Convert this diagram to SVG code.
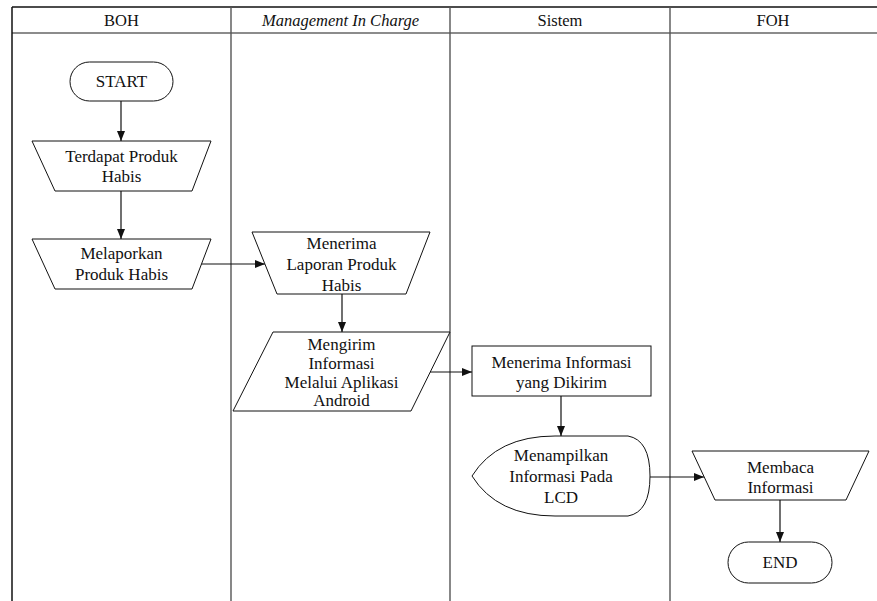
<svg xmlns="http://www.w3.org/2000/svg" width="877" height="601" viewBox="0 0 877 601">
  <style>
    .bg { fill: #ffffff; }
    .frame { stroke: #111; stroke-width: 1.5; fill: none; }
    .lane { stroke: #555; stroke-width: 1.4; fill: none; }
    .hdr { stroke: #666; stroke-width: 1.6; fill: none; }
    .shape { fill: #ffffff; stroke: #111; stroke-width: 1; }
    .edge { stroke: #111; stroke-width: 1.2; fill: none; marker-end: url(#arrow); }
    text { font-size: 17px; fill: #111; text-anchor: middle; }
    .title { font-size: 16.5px; }
    .it { font-style: italic; }
  </style>
  <defs>
    <marker id="arrow" viewBox="0 0 10 10" refX="10" refY="5" markerWidth="10" markerHeight="10" markerUnits="userSpaceOnUse" orient="auto">
      <path d="M0,1 L10,5 L0,9 Z" fill="#111"/>
    </marker>
  </defs>

  <rect class="bg" x="0" y="0" width="877" height="601"/>

  <g font-family="'Liberation Serif', Tinos, 'Times New Roman', 'DejaVu Serif', serif">
  <!-- swimlane table -->
  <g id="lanes">
    <line class="frame" x1="12" y1="7" x2="877" y2="7"/>
    <line class="hdr" x1="12" y1="33" x2="877" y2="33"/>
    <line class="frame" x1="12" y1="7" x2="12" y2="601"/>
    <line class="lane" x1="231" y1="7" x2="231" y2="601"/>
    <line class="lane" x1="450" y1="7" x2="450" y2="601"/>
    <line class="lane" x1="670" y1="7" x2="670" y2="601"/>
    <text class="title" x="121.5" y="26">BOH</text>
    <text class="title it" x="340.5" y="26">Management In Charge</text>
    <text class="title" x="560" y="26">Sistem</text>
    <text class="title" x="773" y="26">FOH</text>
  </g>

  <!-- connectors -->
  <g id="connectors">
    <line class="edge" x1="121" y1="101" x2="121" y2="141"/>
    <line class="edge" x1="121" y1="191" x2="121" y2="239"/>
    <line class="edge" x1="201" y1="264" x2="265" y2="264"/>
    <line class="edge" x1="342" y1="294" x2="342" y2="332"/>
    <line class="edge" x1="430" y1="372" x2="472" y2="372"/>
    <line class="edge" x1="561" y1="396" x2="561" y2="436"/>
    <line class="edge" x1="650" y1="477" x2="704" y2="477"/>
    <line class="edge" x1="780" y1="500" x2="780" y2="542"/>
  </g>

  <g id="start">
    <rect class="shape" x="70" y="62" width="103" height="39" rx="19.5" ry="19.5"/>
    <text x="121.5" y="87">START</text>
  </g>

  <g id="terdapat">
    <polygon class="shape" points="32,141 211,141 192,191 55,191"/>
    <text x="121.5" y="162">Terdapat Produk</text>
    <text x="121.5" y="182">Habis</text>
  </g>

  <g id="melaporkan">
    <polygon class="shape" points="32,239 211,239 192,289 55,289"/>
    <text x="121.5" y="259">Melaporkan</text>
    <text x="121.5" y="280">Produk Habis</text>
  </g>

  <g id="menerima-laporan">
    <polygon class="shape" points="252,232 430,232 406,294 277,294"/>
    <text x="341.5" y="249">Menerima</text>
    <text x="341.5" y="270">Laporan Produk</text>
    <text x="341.5" y="291">Habis</text>
  </g>

  <g id="mengirim">
    <polygon class="shape" points="273,332 450,332 411,411 233,411"/>
    <text x="341.5" y="350">Mengirim</text>
    <text x="341.5" y="369">Informasi</text>
    <text x="341.5" y="388">Melalui Aplikasi</text>
    <text x="341.5" y="406">Android</text>
  </g>

  <g id="menerima-info">
    <rect class="shape" x="472" y="346" width="179" height="50"/>
    <text x="561.5" y="368">Menerima Informasi</text>
    <text x="561.5" y="388">yang Dikirim</text>
  </g>

  <g id="menampilkan">
    <path class="shape" d="M472,476 Q497,436 555,436 L628,436 Q650,440 650,476 Q650,512 628,516 L555,516 Q497,516 472,476 Z"/>
    <text x="561" y="461">Menampilkan</text>
    <text x="561" y="482">Informasi Pada</text>
    <text x="561" y="503">LCD</text>
  </g>

  <g id="membaca">
    <polygon class="shape" points="692,451 869,451 846,500 715,500"/>
    <text x="780.5" y="473">Membaca</text>
    <text x="780.5" y="493">Informasi</text>
  </g>

  <g id="end">
    <rect class="shape" x="728" y="542" width="104" height="41" rx="20.5" ry="20.5"/>
    <text x="780" y="568">END</text>
  </g>
  </g>
</svg>
